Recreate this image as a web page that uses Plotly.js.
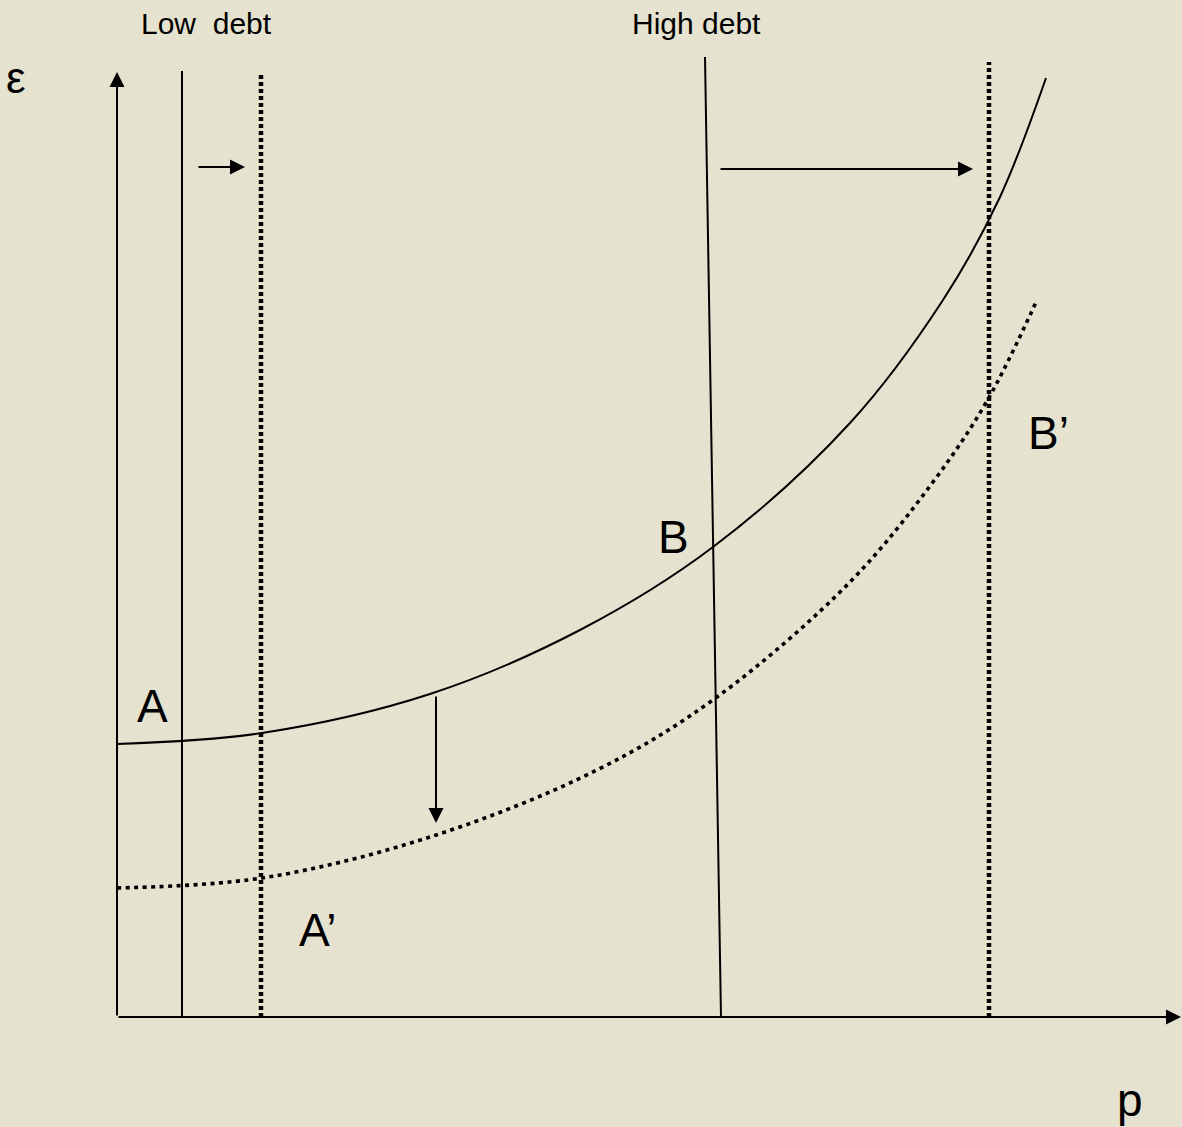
<!DOCTYPE html>
<html>
<head>
<meta charset="utf-8">
<script src="https://cdn.plot.ly/plotly-3.0.1.min.js"></script>
<style>html,body{margin:0;padding:0;background:#e5e2cf;}</style>
</head>
<body>
<div id="chart" style="width:1182px;height:1127px;"></div>
<script>
// Chart units: p (horizontal), epsilon (vertical), origin at axes corner
const solidP   = [0, 1.45, 3.13, 4.63, 5.96, 7.33, 8.26, 8.83, 9.29];
const solidE   = [2.73, 2.84, 3.23, 3.87, 4.70, 5.94, 7.17, 8.20, 9.39];
const dottedP  = [0, 1.45, 3.13, 4.80, 6.00, 7.33, 8.16, 8.70, 9.20];
const dottedE  = [1.29, 1.39, 1.80, 2.47, 3.20, 4.35, 5.35, 6.16, 7.17];

const lowSolidP   = [0.65, 0.65];  const lowSolidE   = [0, 9.46];
const lowDottedP  = [1.44, 1.44];  const lowDottedE  = [0, 9.42];
const highSolidP  = [6.04, 5.88];  const highSolidE  = [0, 9.60];
const highDottedP = [8.72, 8.72];  const highDottedE = [0, 9.55];

// arrows: [fromP, fromE, toP, toE]
const arrowLow  = [0.80, 8.50, 1.28, 8.50];
const arrowHigh = [6.02, 8.48, 8.56, 8.48];
const arrowDown = [3.19, 3.22, 3.19, 1.94];
const axisY     = [0, 0, 0, 9.45];
const axisX     = [0, 0, 10.64, 0];

const labelText = ["Low\u00a0 debt", "High debt", "ε", "A", "A\u2019", "B", "B\u2019", "p"];
const labelP    = [0.89, 5.79, -1.01, 0.35, 2.01, 5.56, 9.31, 10.13];
const labelE    = [9.94, 9.94, 9.40, 3.11, 0.87, 4.80, 5.84, -0.83];
const labelSize = [30, 30, 44, 46, 46, 46, 46, 46];

const black = '#000000';
const solidLine = {color: black, width: 2};
const dotCurve = {color: black, width: 3.6, dash: '4px,4.5px'};
const dotVert = {color: black, width: 4.5, dash: '4px,3px'};

function tr(x, y, line, shape) {
  return {x: x, y: y, mode: 'lines', line: Object.assign({shape: shape || 'linear'}, line),
          hoverinfo: 'skip', showlegend: false, type: 'scatter'};
}

const traces = [
  tr(solidP, solidE, Object.assign({smoothing: 1}, solidLine), 'spline'),
  tr(dottedP, dottedE, Object.assign({smoothing: 1}, dotCurve), 'spline'),
  tr(lowSolidP, lowSolidE, solidLine),
  tr(lowDottedP, lowDottedE, dotVert),
  tr(highSolidP, highSolidE, solidLine),
  tr(highDottedP, highDottedE, dotVert)
];

function arrow(a, w) {
  return {x: a[2], y: a[3], ax: a[0], ay: a[1], xref: 'x', yref: 'y', axref: 'x', ayref: 'y',
          text: '', showarrow: true, arrowhead: 2, arrowsize: 1.5, arrowwidth: w || 2,
          arrowcolor: black, standoff: 0, startstandoff: 0};
}

const annotations = [arrow(arrowLow), arrow(arrowHigh), arrow(arrowDown), arrow(axisY), arrow(axisX)];
for (let i = 0; i < labelText.length; i++) {
  annotations.push({x: labelP[i], y: labelE[i], xref: 'x', yref: 'y', text: labelText[i],
    showarrow: false, xanchor: 'center', yanchor: 'middle',
    font: {family: 'Liberation Sans, Arial, sans-serif', size: labelSize[i], color: black}});
}

const layout = {
  width: 1182, height: 1127,
  margin: {l: 0, r: 0, t: 0, b: 0},
  paper_bgcolor: '#e5e2cf', plot_bgcolor: '#e5e2cf',
  xaxis: {range: [-1.17, 10.65], visible: false, fixedrange: true},
  yaxis: {range: [-1.10, 10.17], visible: false, fixedrange: true},
  annotations: annotations,
  showlegend: false
};

Plotly.newPlot('chart', traces, layout, {staticPlot: true, displayModeBar: false});
</script>
</body>
</html>
